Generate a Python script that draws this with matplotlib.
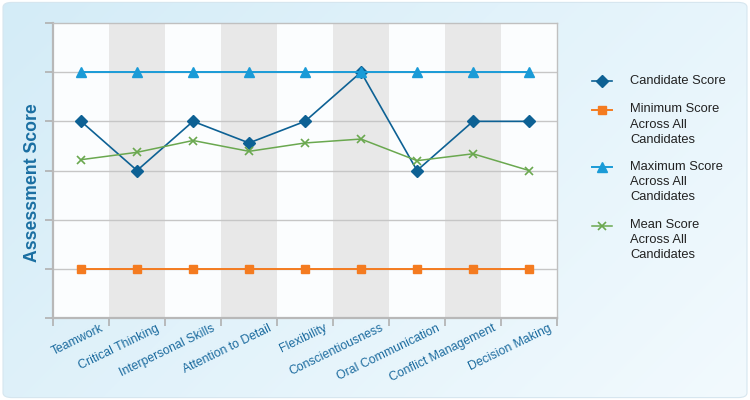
import numpy as np
import matplotlib
matplotlib.use("Agg")
import matplotlib.pyplot as plt
import matplotlib.transforms as mtransforms
from matplotlib.patches import FancyBboxPatch
from matplotlib.lines import Line2D

plt.rcParams['font.family'] = ['Liberation Sans', 'DejaVu Sans']

# data
skills = ["Teamwork", "Critical Thinking", "Interpersonal Skills", "Attention to Detail",
          "Flexibility", "Conscientiousness", "Oral Communication", "Conflict Management",
          "Decision Making"]
candidate = [4, 3, 4, 3.56, 4, 5, 3, 4, 4]
minimum = [1, 1, 1, 1, 1, 1, 1, 1, 1]
maximum = [5, 5, 5, 5, 5, 5, 5, 5, 5]
mean = [3.22, 3.37, 3.61, 3.39, 3.56, 3.64, 3.2, 3.34, 3.0]
series_labels = ["Candidate Score", "Minimum Score\nAcross All\nCandidates",
                 "Maximum Score\nAcross All\nCandidates", "Mean Score\nAcross All\nCandidates"]

fig = plt.figure(figsize=(7.5, 4), dpi=100)

# background panel with a soft blue gradient and rounded corners
bg = fig.add_axes([0, 0, 1, 1], zorder=-10)
bg.set_xlim(0, 1)
bg.set_ylim(0, 1)
bg.axis("off")
grad = np.linspace(0, 1, 256)
gx, gy = np.meshgrid(grad, grad)
t = np.clip(0.65 * gx + 0.35 * (1 - gy), 0, 1)
c0 = np.array([0.83, 0.925, 0.97])
c1 = np.array([0.95, 0.98, 0.995])
img = c0[None, None, :] * (1 - t[..., None]) + c1[None, None, :] * t[..., None]
im = bg.imshow(img, extent=[0, 1, 0, 1], origin="lower", aspect="auto")
box = FancyBboxPatch((0.004, 0.006), 0.992, 0.988, boxstyle="round,pad=0,rounding_size=0.012",
                     transform=bg.transAxes, facecolor="none", edgecolor="#d6e6ef", lw=0.8)
bg.add_patch(box)
im.set_clip_path(box)

ax = fig.add_axes([0.0707, 0.205, 0.672, 0.7375])
ax.set_facecolor("#fbfdfe")
x = np.arange(len(skills))

for i in x:
    if i % 2 == 1:
        ax.axvspan(i - 0.5, i + 0.5, color="#e8e8e8", zorder=0, lw=0)

for yv in range(1, 6):
    ax.axhline(yv, color="#c6c6c6", lw=1.0, zorder=1)

styles = [
    dict(color="#0d6194", lw=1.2, marker="D", ms=6.5),
    dict(color="#f47b20", lw=1.4, marker="s", ms=6),
    dict(color="#1a9bd7", lw=1.4, marker="^", ms=7.5),
    dict(color="#6aa84f", lw=1.1, marker="x", ms=6, mew=1.2),
]
for vals, st in zip([candidate, minimum, maximum, mean], styles):
    ax.plot(x, vals, zorder=3, **st)

ax.set_xlim(-0.5, len(skills) - 0.5)
ax.set_ylim(0, 6)
ax.set_yticks(range(0, 7))
ax.set_yticklabels([])
ax.tick_params(axis="y", length=6, color="#b0b0b0", width=1.2)

ax.set_xticks(x)
ax.set_xticklabels(skills, rotation=26, ha="right", rotation_mode="anchor",
                   color="#1a6a9e", fontsize=8.8)
ax.tick_params(axis="x", length=0, pad=3)
shift = mtransforms.ScaledTranslation(0.19, 0, fig.dpi_scale_trans)
for lab in ax.get_xticklabels():
    lab.set_transform(lab.get_transform() + shift)
ax.set_xticks(np.arange(-0.5, len(skills)), minor=True)
ax.tick_params(axis="x", which="minor", length=6, color="#b0b0b0", width=1.2)

for s in ["top", "right"]:
    ax.spines[s].set_color("#c0c0c0")
    ax.spines[s].set_linewidth(1.0)
for s in ["left", "bottom"]:
    ax.spines[s].set_color("#b8b8b8")
    ax.spines[s].set_linewidth(1.6)

fig.text(0.043, 0.5425, "Assessment Score", rotation=90, ha="center", va="center",
         fontsize=12.7, fontweight="bold", color="#1a6fa2")

# legend drawn by hand so the key sits beside the first line of each label
row_y = [81, 110, 167.5, 225.5]
for ypx, st, lab in zip(row_y, styles, series_labels):
    yf = 1 - ypx / 400
    fig.add_artist(Line2D([592 / 750, 602 / 750, 612 / 750], [yf, yf, yf],
                          markevery=[1], transform=fig.transFigure, **st))
    fig.text(630 / 750, yf + 6.5 / 400, lab, ha="left", va="top", fontsize=9.3,
             color="#222222", linespacing=1.35)

fig.savefig("out.png", dpi=100)
